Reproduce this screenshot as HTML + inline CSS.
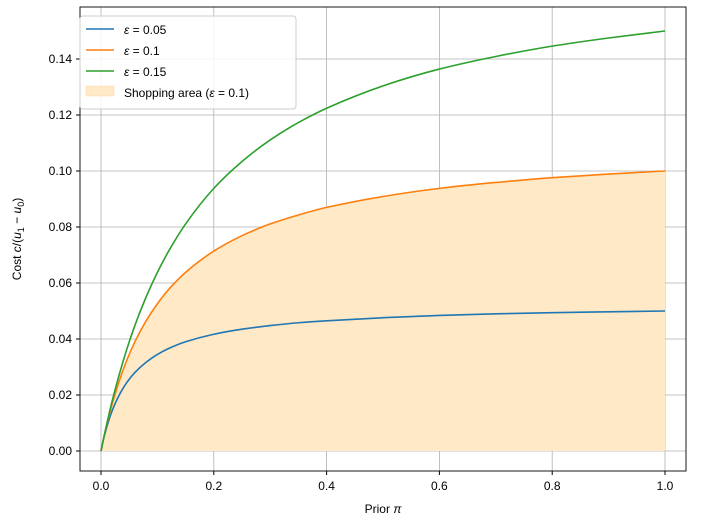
<!DOCTYPE html>
<html><head><meta charset="utf-8"><style>
body{margin:0;background:#fff;}
svg text{font-family:"Liberation Sans","DejaVu Sans",sans-serif;font-size:12px;fill:#000;}
</style></head><body>
<svg id="chart" width="703" height="526" xmlns="http://www.w3.org/2000/svg">
<g id="grid"></g>
<path id="area" fill="#ffe9c7" stroke="none"/>
<g id="lines"></g>
<rect x="80" y="7" width="606" height="464" fill="none" stroke="#000" stroke-width="0.9"/>
<g id="ticks"></g>
<text x="383" y="513" text-anchor="middle">Prior <tspan font-style="italic">π</tspan></text>
<text transform="translate(21,239) rotate(-90)" text-anchor="middle">Cost <tspan font-style="italic">c</tspan>/(<tspan font-style="italic">u</tspan><tspan font-size="9" dy="3">1</tspan><tspan dy="-3"> − </tspan><tspan font-style="italic">u</tspan><tspan font-size="9" dy="3">0</tspan><tspan dy="-3">)</tspan></text>
<g>
<rect x="80" y="16" width="216" height="93" rx="3" fill="#fff" fill-opacity="0.85" stroke="#ccc"/>
<line x1="86" y1="29" x2="114" y2="29" stroke="#1f77b4" stroke-width="1.6"/>
<text x="124" y="34"><tspan font-style="italic">ε</tspan> = 0.05</text>
<line x1="86" y1="50" x2="114" y2="50" stroke="#ff7f0e" stroke-width="1.6"/>
<text x="124" y="55"><tspan font-style="italic">ε</tspan> = 0.1</text>
<line x1="86" y1="71" x2="114" y2="71" stroke="#2ca02c" stroke-width="1.6"/>
<text x="124" y="76"><tspan font-style="italic">ε</tspan> = 0.15</text>
<rect x="86" y="86" width="28" height="10" fill="#ffe9c7" stroke="#ffd9a0" stroke-width="0.5"/>
<text x="124" y="97">Shopping area (<tspan font-style="italic">ε</tspan> = 0.1)</text>
</g>
</svg>
<script>
const priors=[0,0.005,0.01,0.02,0.04,0.06,0.08,0.1,0.12,0.15,0.2,0.25,0.3,0.35,0.4,0.5,0.6,0.7,0.8,0.9,1.0];
const eps005=[0,0.0046,0.0084,0.0145,0.0227,0.0280,0.0317,0.0345,0.0366,0.0390,0.0417,0.0435,0.0448,0.0458,0.0465,0.0476,0.0484,0.0490,0.0494,0.0497,0.05];
const eps01=[0,0.0048,0.0092,0.0169,0.0294,0.0390,0.0465,0.0526,0.0577,0.0638,0.0714,0.0769,0.0811,0.0843,0.0870,0.0909,0.0938,0.0959,0.0976,0.0989,0.1];
const eps015=[0,0.0049,0.0095,0.0180,0.0326,0.0448,0.0550,0.0638,0.0714,0.0811,0.0938,0.1034,0.1111,0.1173,0.1224,0.1304,0.1364,0.1409,0.1446,0.1475,0.150];
const xTicks=[0,0.2,0.4,0.6,0.8,1.0];
const xTickLabels=["0.0","0.2","0.4","0.6","0.8","1.0"];
const yTicks=[0,0.02,0.04,0.06,0.08,0.1,0.12,0.14];
const yTickLabels=["0.00","0.02","0.04","0.06","0.08","0.10","0.12","0.14"];
const X=v=>101+v*564, Y=v=>451-v*2800;
const NS="http://www.w3.org/2000/svg";
function monotone(xs,ys){const n=xs.length,d=[],m=[];
for(let i=0;i<n-1;i++)d.push((ys[i+1]-ys[i])/(xs[i+1]-xs[i]));
m[0]=d[0];m[n-1]=d[n-2];
for(let i=1;i<n-1;i++){if(d[i-1]*d[i]<=0)m[i]=0;else{const h0=xs[i]-xs[i-1],h1=xs[i+1]-xs[i];const w1=2*h1+h0,w2=h1+2*h0;m[i]=(w1+w2)/(w1/d[i-1]+w2/d[i]);}}
let path="M"+X(xs[0])+","+Y(ys[0]);
for(let i=0;i<n-1;i++){const h=xs[i+1]-xs[i];
path+=`C${X(xs[i]+h/3)},${Y(ys[i]+m[i]*h/3)} ${X(xs[i+1]-h/3)},${Y(ys[i+1]-m[i+1]*h/3)} ${X(xs[i+1])},${Y(ys[i+1])}`;}
return path;}
const grid=document.getElementById('grid'),ticks=document.getElementById('ticks');
xTicks.forEach((t,i)=>{
const g=document.createElementNS(NS,'line');g.setAttribute('x1',X(t));g.setAttribute('x2',X(t));g.setAttribute('y1',7);g.setAttribute('y2',471);g.setAttribute('stroke','#b0b0b0');g.setAttribute('stroke-width','0.8');

grid.appendChild(g);
const k=document.createElementNS(NS,'line');k.setAttribute('x1',X(t));k.setAttribute('x2',X(t));k.setAttribute('y1',471);k.setAttribute('y2',475);k.setAttribute('stroke','#000');

ticks.appendChild(k);
const tx=document.createElementNS(NS,'text');tx.setAttribute('x',X(t));tx.setAttribute('y',490);tx.setAttribute('text-anchor','middle');tx.textContent=xTickLabels[i];

ticks.appendChild(tx);});
yTicks.forEach((t,i)=>{
const g=document.createElementNS(NS,'line');g.setAttribute('x1',80);g.setAttribute('x2',686);g.setAttribute('y1',Y(t));g.setAttribute('y2',Y(t));g.setAttribute('stroke','#b0b0b0');g.setAttribute('stroke-width','0.8');

grid.appendChild(g);
const k=document.createElementNS(NS,'line');k.setAttribute('x1',76);k.setAttribute('x2',80);k.setAttribute('y1',Y(t));k.setAttribute('y2',Y(t));k.setAttribute('stroke','#000');

ticks.appendChild(k);
const tx=document.createElementNS(NS,'text');tx.setAttribute('x',72);tx.setAttribute('y',Y(t)+4);tx.setAttribute('text-anchor','end');tx.textContent=yTickLabels[i];

ticks.appendChild(tx);});
document.getElementById('area').setAttribute('d',monotone(priors,eps01)+`L${X(1)},${Y(0)}L${X(0)},${Y(0)}Z`);
const lines=document.getElementById('lines');
[[eps005,'#1f77b4','line-eps-005'],[eps01,'#ff7f0e','line-eps-01'],[eps015,'#2ca02c','line-eps-015']].forEach(s=>{
const p=document.createElementNS(NS,'path');p.setAttribute('d',monotone(priors,s[0]));p.setAttribute('fill','none');p.setAttribute('stroke',s[1]);p.setAttribute('stroke-width','1.6');

lines.appendChild(p);});
</script>
</body></html>
